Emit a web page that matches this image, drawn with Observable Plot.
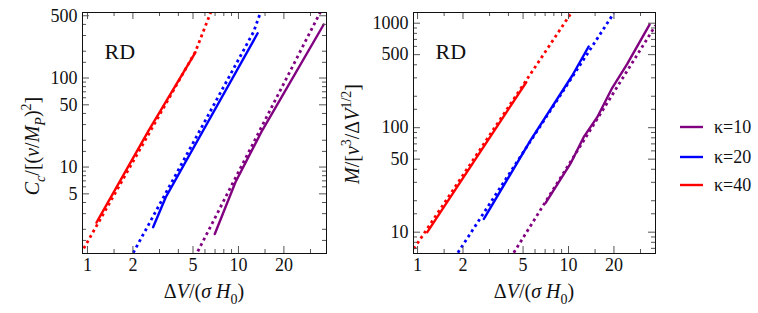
<!DOCTYPE html>
<html><head><meta charset="utf-8">
<script src="https://cdn.jsdelivr.net/npm/d3@7"></script>
<script src="https://cdn.jsdelivr.net/npm/@observablehq/plot@0.6"></script>
<style>
body{margin:0;background:#fff;}
#wrap{position:relative;width:758px;height:313px;overflow:hidden;}
#wrap > svg{position:absolute;top:0;}
</style></head><body><div id="wrap"></div>
<script>
// ---------- data ----------
const kappas = ["κ=10", "κ=20", "κ=40"];
const colors = ["#800080", "#0000ff", "#ff0000"];

// x ticks (shared)
const xMajorTicks = [1, 2, 5, 10, 20];
const xMinorTicks = [1.5, 3, 4, 6, 7, 8, 9, 15, 30];
// left panel y ticks
const leftYMajorTicks = [5, 10, 50, 100, 500];
const leftYMinorTicks = [1.5, 2, 3, 4, 6, 7, 8, 9, 15, 20, 30, 40, 60, 70, 80, 90, 150, 200, 300, 400];
// right panel y ticks
const rightYMajorTicks = [10, 50, 100, 500, 1000];
const rightYMinorTicks = [7, 8, 9, 15, 20, 30, 40, 60, 70, 80, 90, 150, 200, 300, 400, 600, 700, 800, 900];

// Left panel: C_c / [(v/M_P)^2]
const leftK10SolidX = [6.97, 9.55, 14.35, 36.7];
const leftK10SolidY = [1.77, 6.75, 25.7, 399];
const leftK10DotX = [5.38, 34.8];
const leftK10DotY = [1.13, 545];
const leftK20SolidX = [2.72, 3.30, 13.4];
const leftK20SolidY = [2.11, 4.58, 318];
const leftK20DotX = [2.01, 12.6, 14.0];
const leftK20DotY = [1.09, 330, 545];
const leftK40SolidX = [1.147, 2.54, 5.19];
const leftK40SolidY = [2.38, 25.7, 194];
const leftK40DotX = [0.945, 5.19, 6.55];
const leftK40DotY = [1.22, 198, 545];

// Right panel: M / [v^3 / ΔV^{1/2}]
const rightK10SolidX = [7.04, 10.3, 12.6, 15.5, 19.5, 24.5, 34.5];
const rightK10SolidY = [19, 45.2, 81.1, 126, 241, 408, 973];
const rightK10DotX = [4.34, 37.7];
const rightK10DotY = [6.36, 951];
const rightK20SolidX = [2.75, 5.6, 10.6, 13.6];
const rightK20SolidY = [13.4, 75.5, 316, 598];
const rightK20DotX = [1.85, 19.95];
const rightK20DotY = [6.36, 1247];
const rightK40SolidX = [1.16, 5.25];
const rightK40SolidY = [10, 272];
const rightK40DotX = [0.945, 10.4];
const rightK40DotY = [6.94, 1247];

// ---------- helpers ----------
const FONT = "'Liberation Serif', 'Times New Roman', 'DejaVu Serif', serif";
const pts = (xs, ys) => xs.map((x, i) => ({x, y: ys[i]}));
const H = 313, MT = 12, MB = 60;
const tickColor = "#555";

function panel({width, ml, mr, xDomain, yDomain, yMaj, yMin, series}) {
  const fh = H - MT - MB, fw = width - ml - mr;
  const inX = v => v >= xDomain[0] && v <= xDomain[1];
  const inY = v => v >= yDomain[0] && v <= yDomain[1];
  const xM = xMajorTicks.filter(inX), xm = xMinorTicks.filter(inX);
  const yM = yMaj.filter(inY), ym = yMin.filter(inY);
  const marks = [];
  series.forEach(s => {
    marks.push(Plot.line(pts(s.dotX, s.dotY), {x: "x", y: "y", stroke: s.color, strokeWidth: 2.8,
      strokeDasharray: "2.8,3.4", strokeLinecap: "butt", clip: true}));
    marks.push(Plot.line(pts(s.solidX, s.solidY), {x: "x", y: "y", stroke: s.color, strokeWidth: 2.4, clip: true}));
  });
  const tk = (len, arr, which) => {
    if (which === "b") return Plot.tickX(arr, {x: d => d, insetTop: fh - len, stroke: tickColor});
    if (which === "t") return Plot.tickX(arr, {x: d => d, insetBottom: fh - len, stroke: tickColor});
    if (which === "l") return Plot.tickY(arr, {y: d => d, insetRight: fw - len, stroke: tickColor});
    return Plot.tickY(arr, {y: d => d, insetLeft: fw - len, stroke: tickColor});
  };
  ["b", "t"].forEach(w => { marks.push(tk(7, xM, w)); marks.push(tk(4, xm, w)); });
  ["l", "r"].forEach(w => { marks.push(tk(7, yM, w)); marks.push(tk(4, ym, w)); });
  marks.push(Plot.frame({stroke: "#111", strokeWidth: 1}));
  // tick labels
  marks.push(Plot.text(xM, {x: d => d, text: d => String(d), frameAnchor: "bottom", lineAnchor: "top",
    dy: 5, fontSize: 18, fontFamily: FONT, fill: "#111"}));
  marks.push(Plot.text(yM, {y: d => d, text: d => String(d), frameAnchor: "left", textAnchor: "end",
    dx: -5, fontSize: 18, fontFamily: FONT, fill: "#111"}));
  marks.push(Plot.text(["RD"], {frameAnchor: "top-left", dx: 22, dy: 39, textAnchor: "start", lineAnchor: "middle",
    fontSize: 22, fontFamily: FONT, fill: "#111"}));
  return Plot.plot({
    width, height: H, marginLeft: ml, marginRight: mr, marginTop: MT, marginBottom: MB,
    x: {type: "log", domain: xDomain, axis: null},
    y: {type: "log", domain: yDomain, axis: null},
    style: {fontFamily: FONT, fontSize: "18px", background: "transparent", color: "#111", overflow: "visible"},
    marks
  });
}

const leftSeries = [
  {color: colors[0], solidX: leftK10SolidX, solidY: leftK10SolidY, dotX: leftK10DotX, dotY: leftK10DotY},
  {color: colors[1], solidX: leftK20SolidX, solidY: leftK20SolidY, dotX: leftK20DotX, dotY: leftK20DotY},
  {color: colors[2], solidX: leftK40SolidX, solidY: leftK40SolidY, dotX: leftK40DotX, dotY: leftK40DotY}
];
const rightSeries = [
  {color: colors[0], solidX: rightK10SolidX, solidY: rightK10SolidY, dotX: rightK10DotX, dotY: rightK10DotY},
  {color: colors[1], solidX: rightK20SolidX, solidY: rightK20SolidY, dotX: rightK20DotX, dotY: rightK20DotY},
  {color: colors[2], solidX: rightK40SolidX, solidY: rightK40SolidY, dotX: rightK40DotX, dotY: rightK40DotY}
];

const wrap = document.getElementById("wrap");
const p1 = panel({width: 340, ml: 82, mr: 14, xDomain: [0.927, 38.3], yDomain: [1.07, 544],
  yMaj: leftYMajorTicks, yMin: leftYMinorTicks, series: leftSeries});
p1.style.left = "0px";
wrap.appendChild(p1);
const p2 = panel({width: 330, ml: 73, mr: 15, xDomain: [0.94, 37.7], yDomain: [6.25, 1266],
  yMaj: rightYMajorTicks, yMin: rightYMinorTicks, series: rightSeries});
p2.style.left = "340px";
wrap.appendChild(p2);

// ---------- overlay: axis titles and legend ----------
const ov = d3.select(wrap).append("svg").attr("width", 758).attr("height", 313)
  .style("left", "0px").attr("font-family", FONT).attr("fill", "#111");

function rich(g, parts, size) {
  const t = g.append("text").attr("text-anchor", "middle").attr("font-size", size).attr("font-family", FONT);
  let shift = 0;
  parts.forEach(p => {
    const target = p.sub ? size * 0.3 : p.sup ? -size * 0.4 : 0;
    const ts = t.append("tspan").text(p.t).attr("dy", target - shift);
    shift = target;
    if (p.it) ts.attr("font-style", "italic");
    if (p.sub || p.sup) ts.attr("font-size", size * 0.7);
  });
  return t;
}
const xTitle = [{t: "Δ"}, {t: "V", it: 1}, {t: "/("}, {t: "σ", it: 1}, {t: " "}, {t: "H", it: 1}, {t: "0", sub: 1}, {t: ")"}];
rich(ov.append("g").attr("transform", "translate(204,298)"), xTitle, 20);
rich(ov.append("g").attr("transform", "translate(534,298)"), xTitle, 20);
rich(ov.append("g").attr("transform", "translate(39,146) rotate(-90)"),
  [{t: "C", it: 1}, {t: "c", it: 1, sub: 1}, {t: "/[("}, {t: "v", it: 1}, {t: "/"}, {t: "M", it: 1}, {t: "P", it: 1, sub: 1}, {t: ")"}, {t: "2", sup: 1}, {t: "]"}], 20);
rich(ov.append("g").attr("transform", "translate(359,134) rotate(-90)"),
  [{t: "M", it: 1}, {t: "/["}, {t: "v", it: 1}, {t: "3", sup: 1}, {t: "/Δ"}, {t: "V", it: 1}, {t: "1/2", sup: 1}, {t: "]"}], 20);

const legY = [127, 157, 185];
kappas.forEach((k, i) => {
  ov.append("line").attr("x1", 680).attr("x2", 703).attr("y1", legY[i]).attr("y2", legY[i])
    .attr("stroke", colors[i]).attr("stroke-width", 2.4);
  ov.append("text").attr("x", 714).attr("y", legY[i] + 6).attr("font-size", 18).attr("font-family", FONT).text(k);
});
</script>
</body></html>
